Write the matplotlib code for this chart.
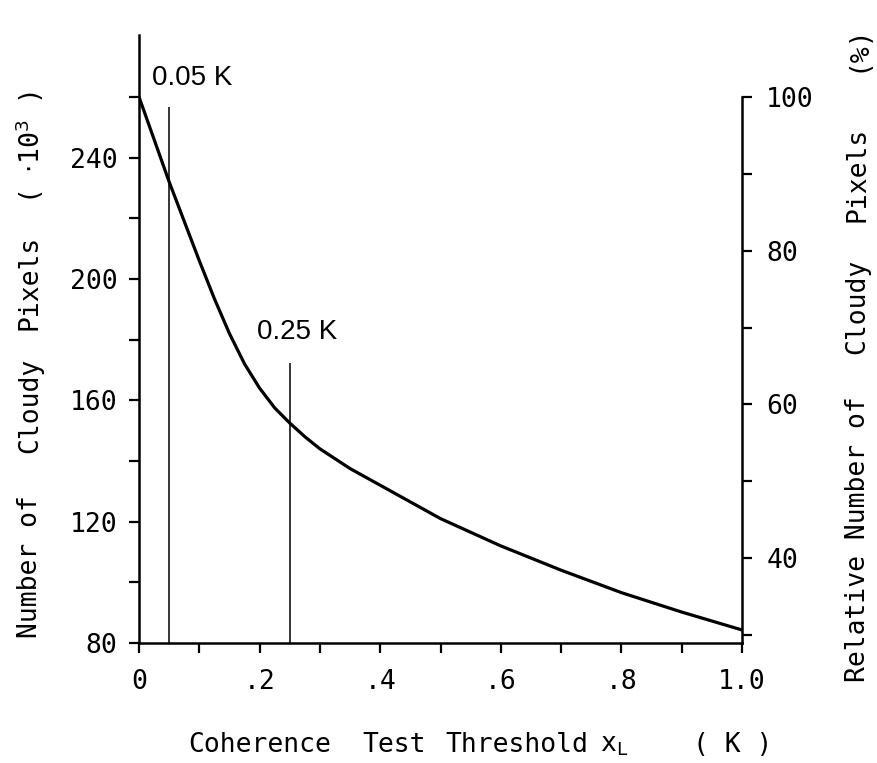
import matplotlib
matplotlib.use("Agg")
import matplotlib.pyplot as plt
from matplotlib.ticker import MultipleLocator, FixedLocator, FixedFormatter

# ---- data ----
threshold = [0.0, 0.025, 0.05, 0.075, 0.1, 0.125, 0.15, 0.175, 0.2, 0.225, 0.25,
             0.275, 0.3, 0.35, 0.4, 0.45, 0.5, 0.55, 0.6, 0.7, 0.8, 0.9, 1.0]
cloudy_pixels = [260, 246, 232, 219, 206, 193.5, 182, 172, 164, 157.5, 152.5,
                 148, 144, 137.5, 132, 126.5, 121, 116.5, 112, 104, 96.6, 90.2, 84.3]
marker_x = [0.05, 0.25]
marker_top = [256.7, 172.3]
marker_labels = ["0.05 K", "0.25 K"]
x_ticks = [0, 0.2, 0.4, 0.6, 0.8, 1.0]
x_ticklabels = ["0", ".2", ".4", ".6", ".8", "1.0"]
left_ticks = [80, 120, 160, 200, 240]
right_ticks = [40, 60, 80, 100]

# mapping left (10^3 pixels) -> right (%)
pct_a = 2.533
pct_b = 6.67

MONO = ['DejaVu Sans Mono']
ANNO = ['Liberation Sans', 'DejaVu Sans']

plt.rcParams['font.family'] = MONO
fig = plt.figure(figsize=(8.77, 7.63), dpi=100)
ax = fig.add_axes([139/877, 120/763, (742-139)/877, (643-35)/763])

ax.plot(threshold, cloudy_pixels, color='black', lw=2.3, solid_capstyle='round',
        solid_joinstyle='round')
for xm, top in zip(marker_x, marker_top):
    ax.vlines(xm, 80, top, color='black', lw=1.1)

ax.text(0.022, 266.3, marker_labels[0], fontsize=20, ha='left', va='center',
        family=ANNO)
ax.text(0.196, 182.5, marker_labels[1], fontsize=20, ha='left', va='center',
        family=ANNO)

ax.set_xlim(0, 1.0)
ax.set_ylim(80, 280.4)
ax.spines['top'].set_visible(False)
ax.spines['right'].set_visible(False)
for s in ['left', 'bottom']:
    ax.spines[s].set_linewidth(1.8)

ax.xaxis.set_major_locator(FixedLocator(x_ticks))
ax.xaxis.set_major_formatter(FixedFormatter(x_ticklabels))
ax.xaxis.set_minor_locator(MultipleLocator(0.1))
ax.yaxis.set_major_locator(FixedLocator(left_ticks))
ax.yaxis.set_minor_locator(FixedLocator([100, 140, 180, 220, 260]))
ax.tick_params(axis='both', which='both', direction='out', length=7.5, width=1.6)
ax.tick_params(axis='x', which='major', labelsize=19, pad=11)
ax.tick_params(axis='y', which='major', labelsize=19, pad=8)

ax2 = ax.twinx()
lo = (80 - pct_b) / pct_a
hi = (280.4 - pct_b) / pct_a
ax2.set_ylim(lo, hi)
for s in ['top', 'left', 'bottom']:
    ax2.spines[s].set_visible(False)
ax2.spines['right'].set_bounds(lo, 100)
ax2.spines['right'].set_linewidth(1.8)
ax2.yaxis.set_major_locator(FixedLocator(right_ticks))
ax2.yaxis.set_minor_locator(FixedLocator([30, 50, 70, 90]))
ax2.tick_params(axis='y', which='both', direction='out', length=7.5, width=1.6)
ax2.tick_params(axis='y', which='major', labelsize=19, pad=10)

# x-axis label, word by word
FS = 19
yx = 0.024
fig.text(188/877, yx, "Coherence", fontsize=FS, ha='left', va='center')
fig.text(362/877, yx, "Test", fontsize=FS, ha='left', va='center')
fig.text(445/877, yx, "Threshold", fontsize=FS, ha='left', va='center')
fig.text(600/877, yx, "x$_{\\mathsf{L}}$", fontsize=FS, ha='left', va='center')
fig.text(733/877, yx, "( K )", fontsize=FS, ha='center', va='center')

# left y label
xl = 0.034
fig.text(xl, 0.257, "Number of", fontsize=FS, ha='center', va='center', rotation=90)
fig.text(xl, 0.469, "Cloudy", fontsize=FS, ha='center', va='center', rotation=90)
fig.text(xl, 0.630, "Pixels", fontsize=FS, ha='center', va='center', rotation=90)
fig.text(xl, 0.806, "( $\\cdot$10$^{3}$ )", fontsize=FS, ha='center', va='center',
         rotation=90)

# right y label
xr = 0.978
fig.text(xr, 0.294, "Relative Number of", fontsize=FS, ha='center', va='center',
         rotation=90)
fig.text(xr, 0.598, "Cloudy", fontsize=FS, ha='center', va='center', rotation=90)
fig.text(xr, 0.772, "Pixels", fontsize=FS, ha='center', va='center', rotation=90)
fig.text(xr, 0.937, "(%)", fontsize=FS, ha='center', va='center', rotation=90)

fig.savefig("out.png", dpi=100)
